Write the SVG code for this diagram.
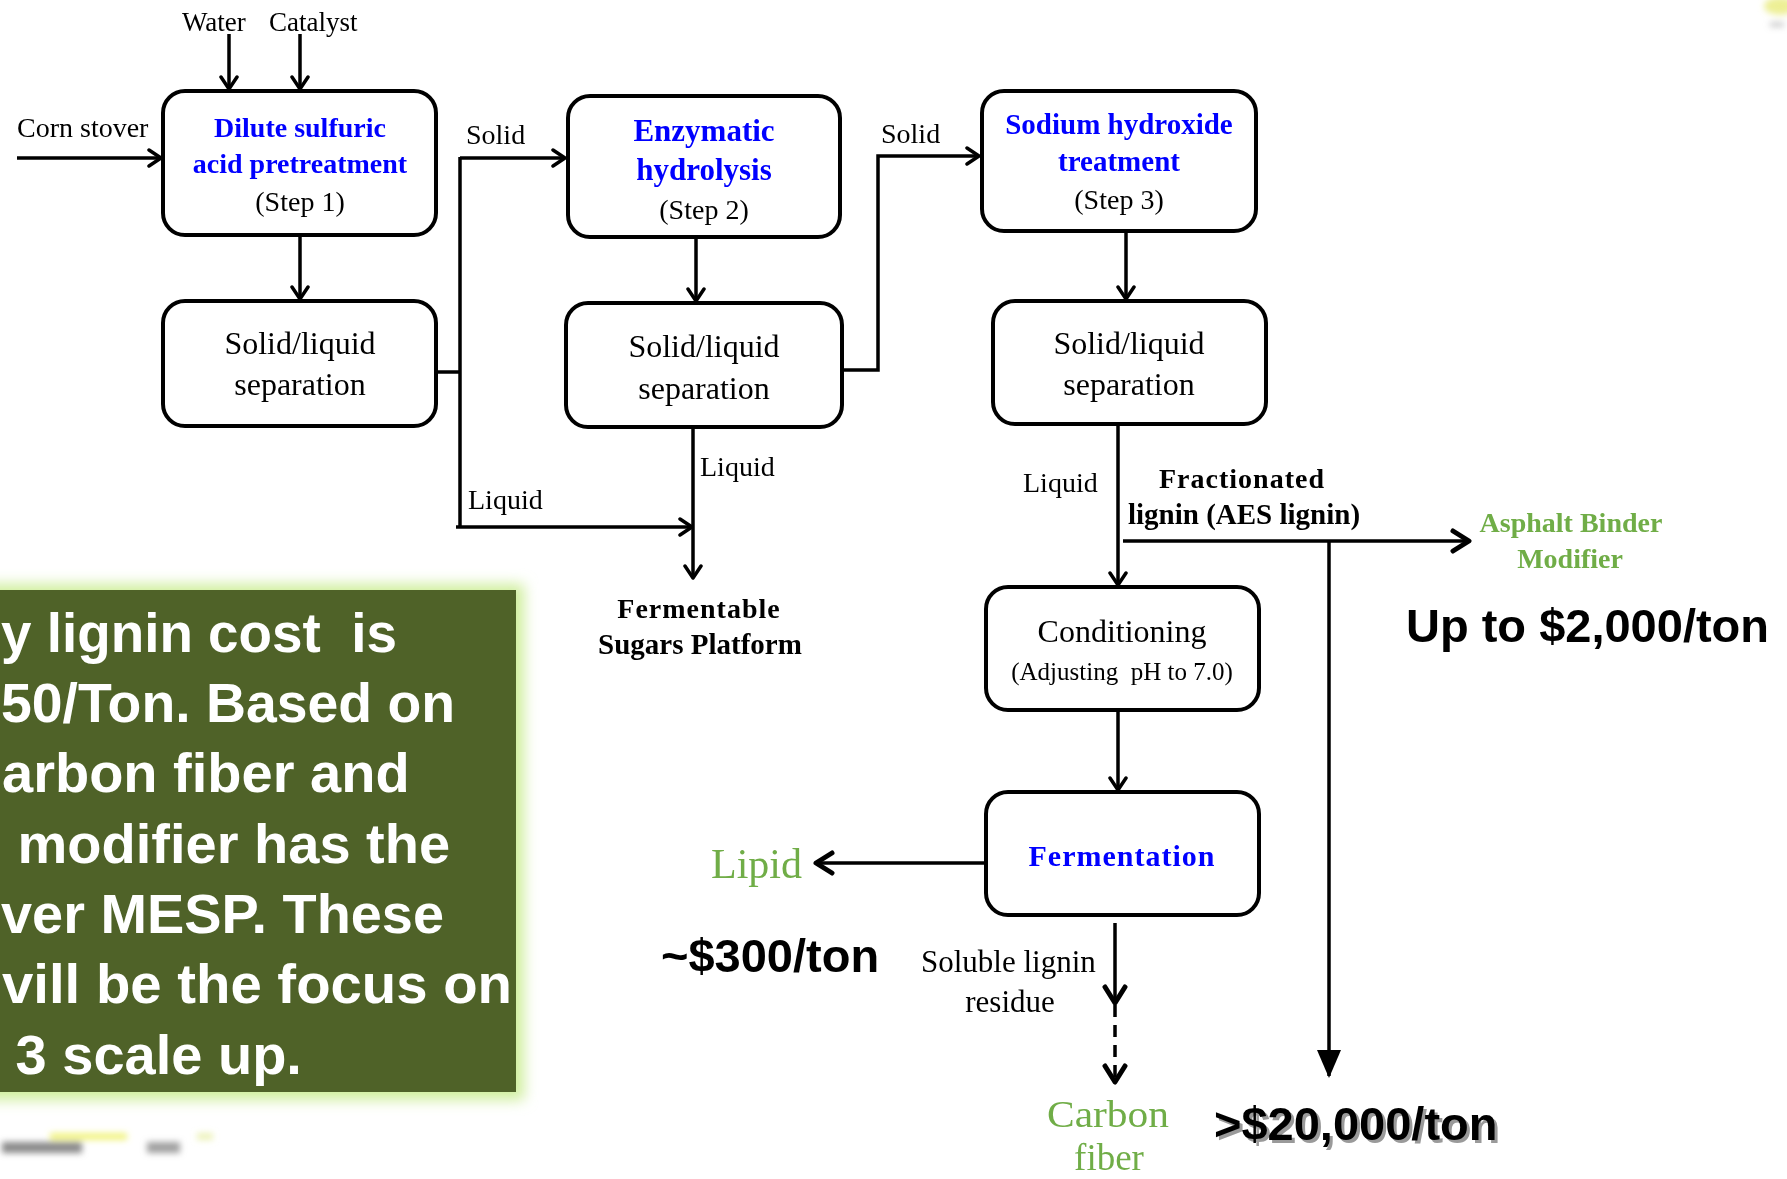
<svg xmlns="http://www.w3.org/2000/svg" width="1787" height="1179" viewBox="0 0 1787 1179">
  <style>
    .box { fill: #ffffff; stroke: #000000; stroke-width: 4; }
    .ln { fill: none; stroke: #000000; stroke-width: 3.5; }
    .serif { font-family: "Liberation Serif", "Times New Roman", serif; fill: #000000; }
    .title { font-family: "Liberation Serif", "Times New Roman", serif; font-weight: bold; fill: #0000ff; }
    .bold { font-weight: bold; }
    .green { fill: #70ad47; }
    .price { font-family: "Liberation Sans", Arial, sans-serif; font-weight: bold; font-size: 47px; fill: #000000; }
    .note { font-family: "Liberation Sans", Arial, sans-serif; font-weight: bold; font-size: 56px; fill: #ffffff; }
    .mid { text-anchor: middle; }
  </style>
  <defs>
    <marker id="chev" markerUnits="userSpaceOnUse" viewBox="0 0 16 20" refX="14" refY="10" markerWidth="16" markerHeight="20" orient="auto">
      <path d="M2,2 L14,10 L2,18" fill="none" stroke="#000" stroke-width="3.5" stroke-linecap="round" stroke-linejoin="round"/>
    </marker>
    <marker id="chevBig" markerUnits="userSpaceOnUse" viewBox="0 0 22 26" refX="19" refY="13" markerWidth="22" markerHeight="26" orient="auto">
      <path d="M3,3 L19,13 L3,23" fill="none" stroke="#000" stroke-width="5" stroke-linecap="round" stroke-linejoin="round"/>
    </marker>
    <marker id="tri" markerUnits="userSpaceOnUse" viewBox="0 0 28 24" refX="26" refY="12" markerWidth="28" markerHeight="24" orient="auto">
      <path d="M0,0 L28,12 L0,24 Z" fill="#000"/>
    </marker>
    <filter id="glow" x="-20%" y="-20%" width="140%" height="140%">
      <feGaussianBlur stdDeviation="7"/>
    </filter>
    <filter id="haze" x="-50%" y="-50%" width="200%" height="200%">
      <feGaussianBlur stdDeviation="3"/>
    </filter>
  </defs>

  <rect width="1787" height="1179" fill="#ffffff"/>

  <!-- faint slide decorations -->
  <g id="decor" filter="url(#haze)">
    <ellipse cx="1780" cy="6" rx="16" ry="9" fill="#e6e86a" opacity="0.7"/>
    <rect x="1770" y="22" width="14" height="5" fill="#9a9a9a" opacity="0.5"/>
    <rect x="50" y="1133" width="77" height="7" fill="#eef060" opacity="0.8"/>
    <rect x="197" y="1133" width="16" height="7" fill="#e4ec9a" opacity="0.7"/>
    <rect x="2" y="1142" width="80" height="11" fill="#8a8a8a"/>
    <rect x="147" y="1142" width="33" height="11" fill="#a0a0a0"/>
  </g>

  <!-- text panel -->
  <g id="panel">
    <rect x="-20" y="584" width="544" height="516" fill="#cfee9c" filter="url(#glow)"/>
    <rect x="-10" y="590" width="526" height="502" fill="#4f6228"/>
    <text class="note" xml:space="preserve" x="1" y="652" textLength="396" lengthAdjust="spacingAndGlyphs">y lignin cost  is</text>
    <text class="note" x="1" y="722" textLength="454" lengthAdjust="spacingAndGlyphs">50/Ton. Based on</text>
    <text class="note" x="2" y="792">arbon fiber and</text>
    <text class="note" xml:space="preserve" x="2" y="863"> modifier has the</text>
    <text class="note" x="1" y="933" textLength="443" lengthAdjust="spacingAndGlyphs">ver MESP. These</text>
    <text class="note" x="2" y="1003" textLength="510" lengthAdjust="spacingAndGlyphs">vill be the focus on</text>
    <text class="note" xml:space="preserve" x="0" y="1074"> 3 scale up.</text>
  </g>

  <!-- connectors -->
  <g id="connectors">
    <path class="ln" d="M229,34 V89" marker-end="url(#chev)"/>
    <path class="ln" d="M300,34 V89" marker-end="url(#chev)"/>
    <path class="ln" d="M17,158 H161" marker-end="url(#chev)"/>
    <path class="ln" d="M300,235 V299" marker-end="url(#chev)"/>
    <path class="ln" d="M436,372 H460"/>
    <path class="ln" d="M460,157 V528"/>
    <path class="ln" d="M460,158 H565" marker-end="url(#chev)"/>
    <path class="ln" d="M456,527 H692" marker-end="url(#chev)"/>
    <path class="ln" d="M696,237 V301" marker-end="url(#chev)"/>
    <path class="ln" d="M842,370 H878 V156 H979" marker-end="url(#chev)"/>
    <path class="ln" d="M693,427 V578" marker-end="url(#chev)"/>
    <path class="ln" d="M1126,231 V299" marker-end="url(#chev)"/>
    <path class="ln" d="M1118,424 V585" marker-end="url(#chev)"/>
    <path class="ln" d="M1118,710 V790" marker-end="url(#chev)"/>
    <path class="ln" d="M1123,541 H1469" stroke-width="5" marker-end="url(#chevBig)"/>
    <path class="ln" d="M1329,541 V1076" stroke-width="7" marker-end="url(#tri)"/>
    <path class="ln" d="M986,863 H816" stroke-width="5" marker-end="url(#chevBig)"/>
    <path class="ln" d="M1115,923 V1003" stroke-width="4" marker-end="url(#chevBig)"/>
    <path class="ln" d="M1115,1005 V1082" stroke-width="4" stroke-dasharray="12,8" marker-end="url(#chevBig)"/>
  </g>

  <!-- free labels -->
  <g id="labels">
    <text class="serif" x="182" y="31" font-size="27">Water</text>
    <text class="serif" x="269" y="31" font-size="27">Catalyst</text>
    <text class="serif" x="17" y="137" font-size="28">Corn stover</text>
    <text class="serif" x="466" y="144" font-size="28">Solid</text>
    <text class="serif" x="881" y="143" font-size="28">Solid</text>
    <text class="serif" x="468" y="509" font-size="28">Liquid</text>
    <text class="serif" x="700" y="476" font-size="28">Liquid</text>
    <text class="serif" x="1023" y="492" font-size="28">Liquid</text>
    <text class="serif bold mid" x="699" y="618" font-size="28" letter-spacing="1">Fermentable</text>
    <text class="serif bold mid" x="700" y="654" font-size="29">Sugars Platform</text>
    <text class="serif bold mid" x="1242" y="488" font-size="28" letter-spacing="1">Fractionated</text>
    <text class="serif bold" x="1128" y="524" font-size="29">lignin (AES lignin)</text>
    <text class="serif bold green mid" x="1571" y="532" font-size="28">Asphalt Binder</text>
    <text class="serif bold green mid" x="1570" y="568" font-size="28">Modifier</text>
    <text class="price" x="1406" y="642">Up to $2,000/ton</text>
    <text class="serif green" x="711" y="878" font-size="42">Lipid</text>
    <text class="price" x="661" y="972">~$300/ton</text>
    <text class="serif" x="921" y="972" font-size="31">Soluble lignin</text>
    <text class="serif mid" x="1010" y="1012" font-size="31">residue</text>
    <text class="serif green" x="1047" y="1127" font-size="37" textLength="122" lengthAdjust="spacingAndGlyphs">Carbon</text>
    <text class="serif green mid" x="1109" y="1170" font-size="37">fiber</text>
    <text class="price" x="1217" y="1143" style="fill:#9a9a9a">&gt;$20,000/ton</text>
    <text class="price" x="1214" y="1140">&gt;$20,000/ton</text>
  </g>

  <!-- process nodes -->
  <g id="step1">
    <rect class="box" x="163" y="91" width="273" height="144" rx="22"/>
    <text class="title mid" x="300" y="137" font-size="28">Dilute sulfuric</text>
    <text class="title mid" x="300" y="173" font-size="28">acid pretreatment</text>
    <text class="serif mid" x="300" y="211" font-size="28">(Step 1)</text>
  </g>
  <g id="sep1">
    <rect class="box" x="163" y="301" width="273" height="125" rx="22"/>
    <text class="serif mid" x="300" y="354" font-size="32">Solid/liquid</text>
    <text class="serif mid" x="300" y="395" font-size="32">separation</text>
  </g>
  <g id="step2">
    <rect class="box" x="568" y="96" width="272" height="141" rx="22"/>
    <text class="title mid" x="704" y="141" font-size="31">Enzymatic</text>
    <text class="title mid" x="704" y="180" font-size="31">hydrolysis</text>
    <text class="serif mid" x="704" y="219" font-size="28">(Step 2)</text>
  </g>
  <g id="sep2">
    <rect class="box" x="566" y="303" width="276" height="124" rx="22"/>
    <text class="serif mid" x="704" y="357" font-size="32">Solid/liquid</text>
    <text class="serif mid" x="704" y="399" font-size="32">separation</text>
  </g>
  <g id="step3">
    <rect class="box" x="982" y="91" width="274" height="140" rx="22"/>
    <text class="title mid" x="1119" y="134" font-size="29">Sodium hydroxide</text>
    <text class="title mid" x="1119" y="171" font-size="29">treatment</text>
    <text class="serif mid" x="1119" y="209" font-size="28">(Step 3)</text>
  </g>
  <g id="sep3">
    <rect class="box" x="993" y="301" width="273" height="123" rx="22"/>
    <text class="serif mid" x="1129" y="354" font-size="32">Solid/liquid</text>
    <text class="serif mid" x="1129" y="395" font-size="32">separation</text>
  </g>
  <g id="conditioning">
    <rect class="box" x="986" y="587" width="273" height="123" rx="22"/>
    <text class="serif mid" x="1122" y="642" font-size="32">Conditioning</text>
    <text class="serif mid" xml:space="preserve" x="1122" y="680" font-size="25">(Adjusting  pH to 7.0)</text>
  </g>
  <g id="fermentation">
    <rect class="box" x="986" y="792" width="273" height="123" rx="22"/>
    <text class="title mid" x="1122" y="866" font-size="30" letter-spacing="1">Fermentation</text>
  </g>
</svg>
